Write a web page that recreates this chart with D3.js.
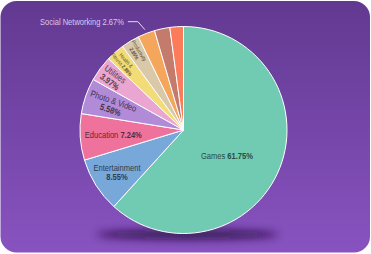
<!DOCTYPE html>
<html>
<head>
<meta charset="utf-8">
<script src="https://cdn.jsdelivr.net/npm/d3@7"></script>
<style>
  html, body { margin: 0; padding: 0; background: #ffffff; }
  svg { display: block; font-family: "Liberation Sans", Arial, sans-serif; }
</style>
</head>
<body>
<script>
// app store categories, share of apps (%)
const categories = ["Games", "Entertainment", "Education", "Photo & Video", "Utilities",
                    "Health & Fitness", "Productivity", "Social Networking", "Lifestyle", "Business"];
const shares = [61.75, 8.55, 7.24, 5.58, 3.97, 2.88, 2.85, 2.67, 2.40, 2.11];
const labelLines = [
    ["Games", "61.75%"],
    ["Entertainment", "8.55%"],
    ["Education", "7.24%"],
    ["Photo & Video", "5.58%"],
    ["Utilities", "3.97%"],
    ["Health &", "Fitness 2.88%"],
    ["Productivity", "2.85%"],
    null, null, null
];
const colors = ["#70cbb2", "#78a7da", "#ef729c", "#b18ad8", "#eaa6d0",
                "#f2dc78", "#d9c9a9", "#f5a65d", "#c47b6c", "#fc7b5b"];

const WIDTH = 371;
const HEIGHT = 254;
const CX = 183.5, CY = 130, R = 103.5;
const SX = 0.84; // the source font is narrow

const svg = d3.select("body").append("svg")
    .attr("width", WIDTH)
    .attr("height", HEIGHT);

const defs = svg.append("defs");
const grad = defs.append("linearGradient")
    .attr("id", "bg")
    .attr("x1", 0).attr("y1", 0).attr("x2", 0).attr("y2", 1);
grad.append("stop").attr("offset", "0%").attr("stop-color", "#623991");
grad.append("stop").attr("offset", "100%").attr("stop-color", "#8853c0");

defs.append("filter")
    .attr("id", "blur")
    .attr("x", "-50%").attr("y", "-200%").attr("width", "200%").attr("height", "500%")
    .append("feGaussianBlur").attr("stdDeviation", 4);

svg.append("rect")
    .attr("x", 0.5).attr("y", 1)
    .attr("width", WIDTH - 1.5).attr("height", HEIGHT - 2.5)
    .attr("rx", 16)
    .attr("fill", "url(#bg)");

// shadow under the pie
svg.append("ellipse")
    .attr("cx", CX + 4).attr("cy", CY + R + 1)
    .attr("rx", R * 0.88).attr("ry", 5)
    .attr("fill", "#26093f")
    .attr("opacity", 0.85)
    .attr("filter", "url(#blur)");

const pie = d3.pie().sort(null).value(d => d.value);
const arcs = pie(categories.map((c, i) => ({name: c, value: shares[i], idx: i})));
const arc = d3.arc().innerRadius(0).outerRadius(R);

const g = svg.append("g").attr("transform", `translate(${CX},${CY})`);

g.selectAll("path")
    .data(arcs)
    .enter()
    .append("path")
    .attr("d", arc)
    .attr("fill", d => colors[d.data.idx])
    .attr("stroke", "#ffffff")
    .attr("stroke-width", 1);

// label placement: radius factor, angle shift (deg), rotate along radius?, font size
const labelCfg = {
    "Games":            {rf: 0.49, da: 10, rot: false, fs: 9, inline: true},
    "Entertainment":    {rf: 0.76, da: 0,  rot: false, fs: 9},
    "Education":        {rf: 0.68, da: 0,  rot: false, fs: 9, inline: true},
    "Photo & Video":    {rf: 0.73, da: 0,  rot: true,  fs: 9},
    "Utilities":        {rf: 0.85, da: 0,  rot: true,  fs: 9},
    "Health & Fitness": {rf: 0.87, da: 0,  rot: true,  fs: 5.4},
    "Productivity":     {rf: 0.88, da: 0,  rot: true,  fs: 5.4}
};

arcs.forEach(d => {
    const lines = labelLines[d.data.idx];
    if (!lines) return;
    const cfg = labelCfg[d.data.name];
    const mid = (d.startAngle + d.endAngle) / 2;
    const a = mid + cfg.da * Math.PI / 180;
    const r = R * cfg.rf;
    const x = Math.sin(a) * r;
    const y = -Math.cos(a) * r;
    const deg = mid * 180 / Math.PI;
    const rot = cfg.rot ? deg - 270 : 0;
    const col = d3.color(colors[d.data.idx]).darker(2.8).formatHex();
    const t = g.append("text")
        .attr("transform", `translate(${x},${y}) rotate(${rot}) scale(${SX},1)`)
        .attr("text-anchor", "middle")
        .attr("font-size", cfg.fs)
        .attr("fill", col);
    if (cfg.inline) {
        t.attr("dy", "0.35em");
        t.append("tspan").text(lines[0] + " ");
        t.append("tspan").attr("font-weight", "bold").text(lines[1]);
    } else if (d.data.name === "Health & Fitness") {
        t.append("tspan").attr("x", 0).attr("dy", "-0.15em").text(lines[0]);
        const t2 = t.append("tspan").attr("x", 0).attr("dy", "1.1em");
        t2.append("tspan").text("Fitness ");
        t2.append("tspan").attr("font-weight", "bold").text("2.88%");
    } else {
        t.append("tspan").attr("x", 0).attr("dy", "-0.15em").text(lines[0]);
        t.append("tspan").attr("x", 0).attr("dy", "1.05em")
            .attr("font-weight", "bold").text(lines[1]);
    }
});

// outside callout for Social Networking
const sn = arcs[7];
const snMid = (sn.startAngle + sn.endAngle) / 2;
const px = CX + Math.sin(snMid) * (R + 4);
const py = CY - Math.cos(snMid) * (R + 4);
svg.append("polyline")
    .attr("points", `${px},${py} ${px - 7},${py - 8} ${px - 17},${py - 8}`)
    .attr("fill", "none")
    .attr("stroke", "#e4d6f4")
    .attr("stroke-width", 1);
svg.append("text")
    .attr("transform", `translate(${px - 21},${py - 8}) scale(${SX},1)`)
    .attr("dy", "0.35em")
    .attr("text-anchor", "end")
    .attr("font-size", 9)
    .attr("fill", "#d9c8ee")
    .text(categories[7] + " " + shares[7].toFixed(2) + "%");
</script>
</body>
</html>
